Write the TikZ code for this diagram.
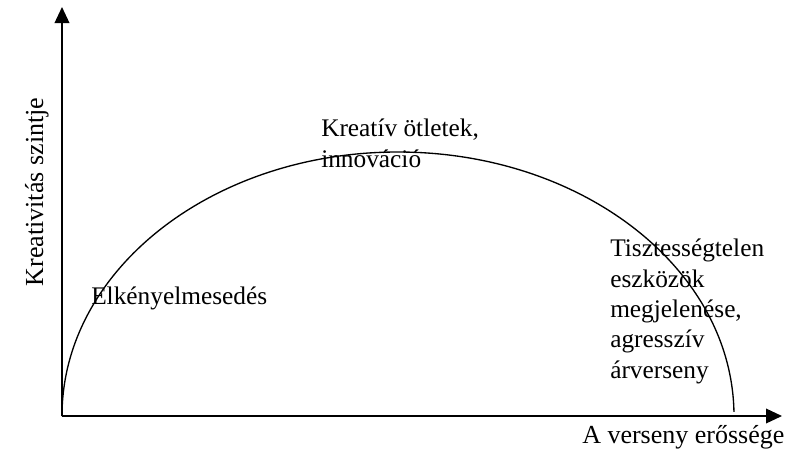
\documentclass[tikz,border=0pt]{standalone}
\usepackage{fontspec}
\setmainfont{Liberation Serif}
\usetikzlibrary{arrows.meta}

\begin{document}
\begin{tikzpicture}[x=0.75pt,y=0.75pt,yscale=-1,xscale=1,
  axis/.style={line width=1.1pt,-{Triangle[length=12pt,width=11pt]}},
  lbl/.style={anchor=base west,inner sep=0pt,font=\fontsize{19}{22.7}\selectfont,align=left}]
\useasboundingbox (0,0) rectangle (792,454);

%Axes
\coordinate (O) at (62,416);
\coordinate (ytip) at (62,7);
\coordinate (xtip) at (782,416);
\draw [axis] (O) -- (ytip) ;
\draw [axis] (O) -- (xtip) ;
%Curve
\draw [line width=1pt] (O) arc [start angle=180, end angle=359.1, x radius=336, y radius=264] coordinate (cend) ;

% Text Node
\node [lbl,rotate=90,anchor=base,font=\fontsize{19.5}{22.7}\selectfont] (ylab) at (43,192) {Kreativitás szintje};
% Text Node
\node [lbl,font=\fontsize{19.5}{22.7}\selectfont] (xlab) at (582,443) {A verseny erőssége};
% Text Node
\node [lbl] (elk) at (91,304) {Elkényelmesedés};
% Text Node (base = last line)
\node [lbl] (innov) at (321,167) {Kreatív ötletek,\\innováció};
% Text Node (base = last line)
\node [lbl] (tiszt) at (610,378) {Tisztességtelen\\eszközök\\megjelenése,\\agresszív\\árverseny};

\end{tikzpicture}
\end{document}
